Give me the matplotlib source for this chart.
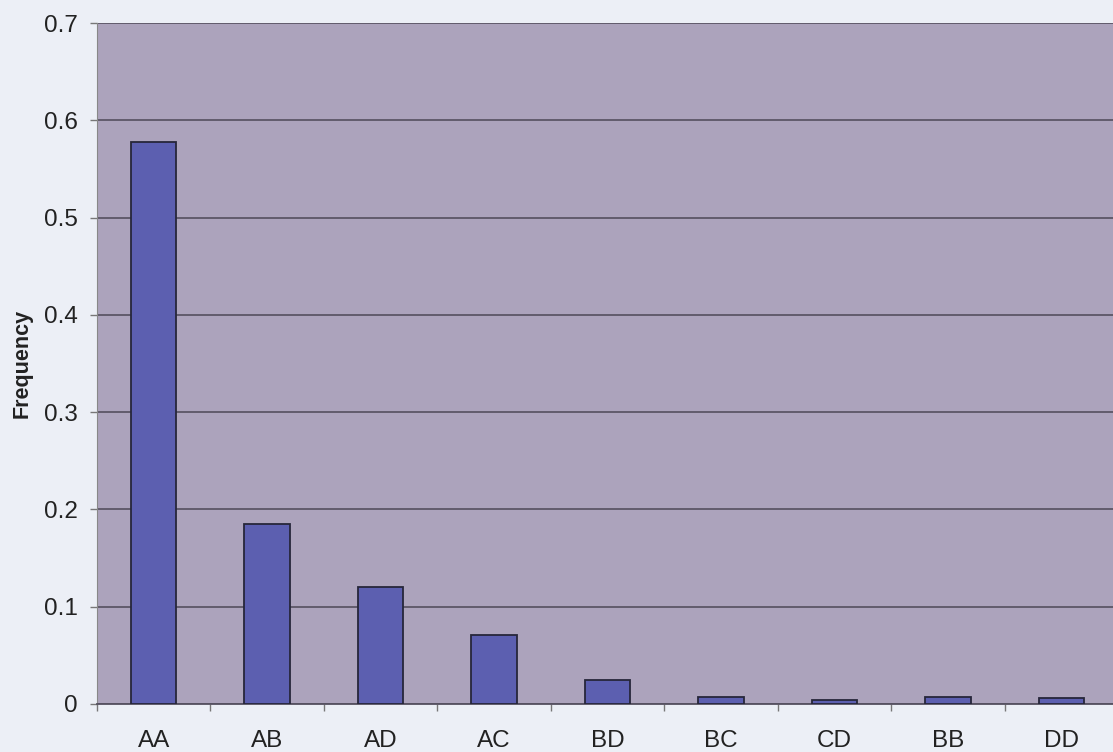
import matplotlib.pyplot as plt
import numpy as np

plt.rcParams['font.family'] = ['Liberation Sans', 'DejaVu Sans']

# genotype pair frequencies
pairs = ['AA', 'AB', 'AD', 'AC', 'BD', 'BC', 'CD', 'BB', 'DD']
freq = [0.578, 0.185, 0.120, 0.071, 0.025, 0.007, 0.004, 0.007, 0.006]
yticks = [0, 0.1, 0.2, 0.3, 0.4, 0.5, 0.6, 0.7]
ytick_labels = ['0', '0.1', '0.2', '0.3', '0.4', '0.5', '0.6', '0.7']

fig = plt.figure(figsize=(11.13, 7.52), dpi=100, facecolor='#eceff6')
# plot area runs slightly past the right edge of the figure
ax = fig.add_axes([97 / 1113, 1 - 704 / 752, 1021 / 1113, 681 / 752])
ax.set_facecolor('#aca3bc')

x = np.arange(len(pairs))
ax.bar(x, freq, width=0.4, color='#5c5fb0', edgecolor='#26263a', linewidth=1.3, zorder=3)

ax.set_xlim(-0.5, len(pairs) - 0.5)
ax.set_ylim(0, 0.7)
ax.set_yticks(yticks)
ax.set_yticklabels(ytick_labels)
ax.yaxis.grid(True, color='#55505f', linewidth=1.2, zorder=1)

ax.set_xticks(x)
ax.set_xticklabels(pairs)
ax.set_xticks(np.arange(len(pairs) + 1) - 0.5, minor=True)
ax.tick_params(axis='x', which='major', length=0, pad=19, labelsize=17.5, colors='#222222')
ax.tick_params(axis='x', which='minor', length=5, width=1, color='#777777')
ax.tick_params(axis='y', length=5, width=1, color='#777777', labelcolor='#222222',
               pad=9, labelsize=17.5)

for side in ['top', 'right']:
    ax.spines[side].set_visible(False)
ax.spines['left'].set_color('#888888')
ax.spines['bottom'].set_color('#555060')
ax.spines['bottom'].set_linewidth(1.3)

ax.set_ylabel('Frequency', fontsize=15.5, fontweight='bold', labelpad=8, color='#222222')

fig.savefig('out.png', dpi=100, facecolor=fig.get_facecolor())
